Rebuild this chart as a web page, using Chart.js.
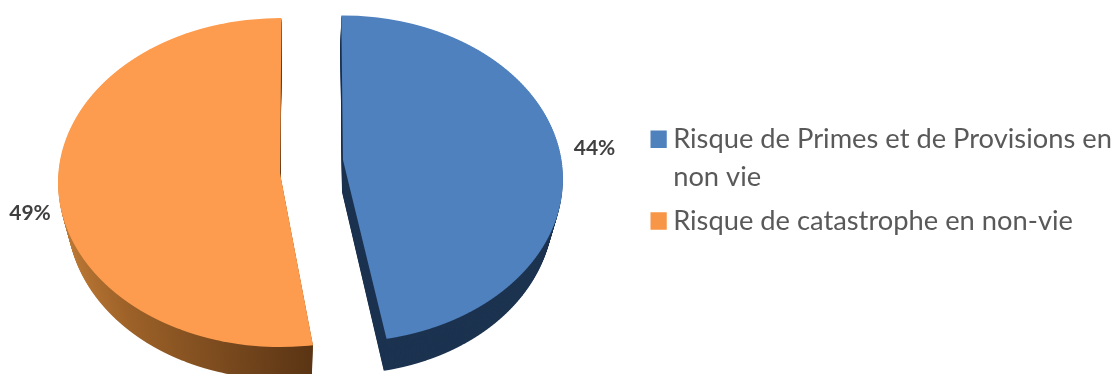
<!DOCTYPE html>
<html>
<head>
<meta charset="utf-8">
<style>
  html, body { margin: 0; padding: 0; background: #ffffff; }
  canvas { display: block; }
</style>
<script src="https://cdn.jsdelivr.net/npm/chart.js@4"></script>
</head>
<body>
<canvas id="pie" width="1112" height="374"></canvas>
<script>
const categories = [
  ['Risque de Primes et de Provisions en', 'non vie'],
  'Risque de catastrophe en non-vie'
];
const shares = [44, 49];
const topColors = ['#4F81BF', '#FD9C4E'];
const legendColors = ['#4F81BD', '#F79646'];

// Projection of each exploded slice: where its tip lands on the page and how the disc is foreshortened.
const slicePlacement = [
  { tipX: 343, tipY: 160, across: 218.5, along: 161.1, tilt: 0.115, sink: 32, narrow: 0.04, nudge: -1, startTurn: 0.5, endTurn: 0.5 },
  { tipX: 280, tipY: 173, across: 221.6, along: 163.9, tilt: 0.058, sink: 32, narrow: 0.04, nudge: 0.2, startTurn: 2.6, endTurn: 1.4 }
];
const valueLabelCentres = [[594.5, 148], [30, 213]];

// Paints one arc element through the perspective, one thin pixel-aligned row at a time.
function paintProjected(ctx, arc, place, fill, shiftY, scaleX, shiftX) {
  const R = arc.outerRadius;
  const yTop = Math.floor(place.tipY - place.along / (1 + place.tilt)) - 2;
  const yEnd = Math.ceil(place.tipY + place.along / (1 - place.tilt)) + 2;
  const original = arc.options;
  arc.options = Object.assign({}, original, { backgroundColor: fill });
  const toV = d => d / (place.along + place.tilt * d);
  const rowHeight = 2;
  for (let y = yTop; y < yEnd; y += rowHeight) {
    const v0 = toV(y - place.tipY);
    const v1 = toV(y + rowHeight - place.tipY);
    const w = 1 - place.tilt * (v0 + v1) / 2;
    const sx = place.across * scaleX / (w * R);
    const sy = rowHeight / ((v1 - v0) * R);
    ctx.save();
    ctx.beginPath();
    ctx.rect(0, Math.round(y + shiftY), ctx.canvas.width, rowHeight);
    ctx.clip();
    ctx.transform(sx, 0, 0, sy,
      place.tipX + shiftX - arc.x * sx,
      y + shiftY - (arc.y + v0 * R) * sy);
    arc.draw(ctx);
    ctx.restore();
  }
  arc.options = original;
}

const extrudedPie = {
  id: 'extrudedPie',
  afterLayout(chart) {
    // The legend block sits to the right of the pie.
    const legend = chart.legend;
    const w = legend.width, h = legend.height;
    legend.left = 650.5;
    legend.right = 650.5 + w;
    legend.top = 119.5;
    legend.bottom = 119.5 + h;
  },
  beforeDatasetDraw(chart, args) {
    const ctx = chart.ctx;
    args.meta.data.forEach((arc, i) => {
      const place = slicePlacement[i];
      const R = arc.outerRadius;
      // Each slice is settled slightly about its own tip.
      const startShift = place.startTurn * Math.PI / 180;
      const endShift = place.endTurn * Math.PI / 180;
      arc.startAngle += startShift;
      arc.endAngle += endShift;
      let wall = '#1C3350';
      if (i === 1) {
        // Source-space gradient so the orange wall darkens towards the cut edge.
        const toSource = x => arc.x + (x - place.tipX) * R / place.across;
        const g = ctx.createLinearGradient(toSource(58), 0, toSource(312), 0);
        g.addColorStop(0, '#C07B36');
        g.addColorStop(0.3, '#9C6128');
        g.addColorStop(1, '#5A3414');
        wall = g;
      }
      for (let d = place.sink; d >= 1; d--) {
        const t = d / place.sink;
        paintProjected(ctx, arc, place, wall, d, 1 - place.narrow * t, place.nudge * t);
      }
      paintProjected(ctx, arc, place, topColors[i], 0, 1, 0);
      arc.startAngle -= startShift;
      arc.endAngle -= endShift;
    });
    return false;
  },
  afterDatasetsDraw(chart) {
    const ctx = chart.ctx;
    ctx.save();
    ctx.font = 'bold 21px Lato';
    ctx.fillStyle = '#404040';
    ctx.textAlign = 'center';
    ctx.textBaseline = 'middle';
    shares.forEach((value, i) => {
      ctx.fillText(value + '%', valueLabelCentres[i][0], valueLabelCentres[i][1]);
    });
    ctx.restore();
  }
};

new Chart(document.getElementById('pie'), {
  type: 'pie',
  plugins: [extrudedPie],
  data: {
    labels: categories,
    datasets: [{
      data: shares,
      backgroundColor: topColors,
      borderWidth: 0
    }]
  },
  options: {
    responsive: false,
    animation: false,
    rotation: -1,
    plugins: {
      tooltip: { enabled: false },
      legend: {
        position: 'right',
        align: 'start',
        labels: {
          boxWidth: 3,
          boxHeight: 3,
          padding: 6,
          color: '#595959',
          font: { family: 'Lato', size: 27.3, lineHeight: 1.39 },
          generateLabels: () => categories.map((text, i) => ({
            text,
            fillStyle: legendColors[i],
            strokeStyle: legendColors[i],
            lineWidth: 14.5,
            fontColor: '#595959',
            index: i
          }))
        }
      }
    }
  }
});
</script>
</body>
</html>
